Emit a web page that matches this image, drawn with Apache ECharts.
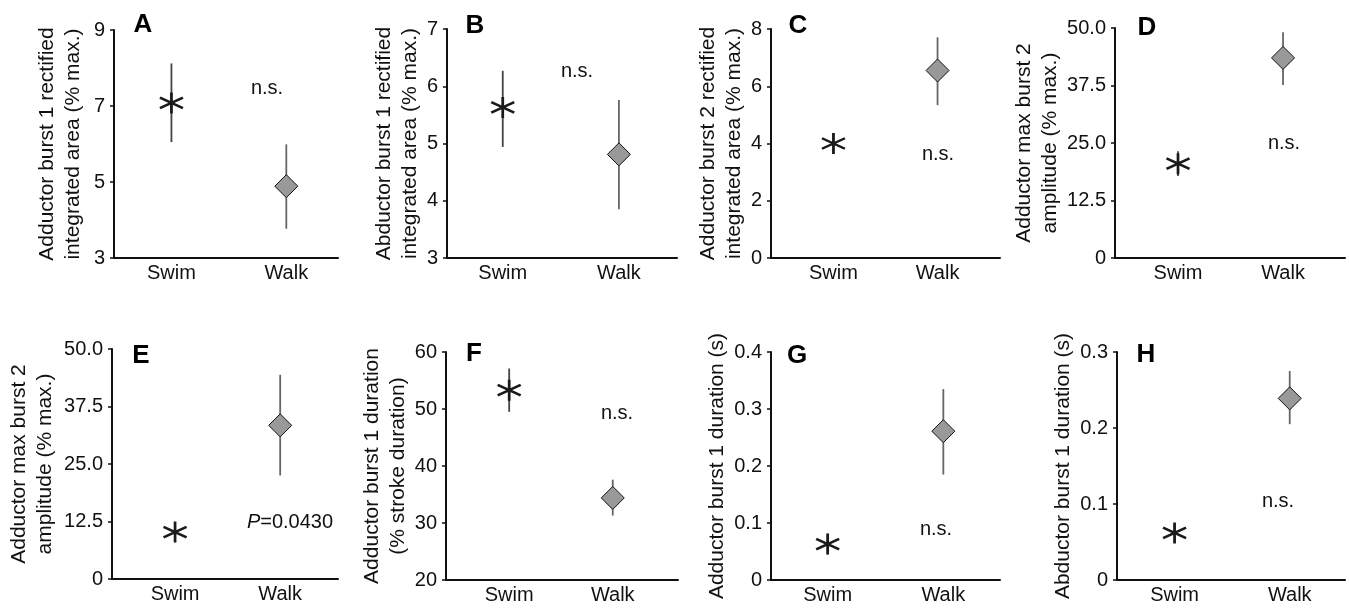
<!DOCTYPE html>
<html>
<head>
<meta charset="utf-8">
<script src="https://cdn.jsdelivr.net/npm/echarts@6/dist/echarts.min.js"></script>
<style>
  html, body { margin: 0; padding: 0; background: #fff; }
  #chart { width: 1349px; height: 612px; }
</style>
</head>
<body>
<div id="chart"></div>
<script>
// panel data (A..H)
const categories = ["Swim", "Walk"];
const panelLetters = ["A", "B", "C", "D", "E", "F", "G", "H"];
const yTitles = [
  "Adductor burst 1 rectified\nintegrated area (% max.)",
  "Abductor burst 1 rectified\nintegrated area (% max.)",
  "Adductor burst 2 rectified\nintegrated area (% max.)",
  "Adductor max burst 2\namplitude (% max.)",
  "Adductor max burst 2\namplitude (% max.)",
  "Adductor burst 1 duration\n(% stroke duration)",
  "Adductor burst 1 duration (s)",
  "Abductor burst 1 duration (s)",
];
const yMin = [3, 3, 0, 0, 0, 20, 0, 0];
const yMax = [9, 7, 8, 50, 50, 60, 0.4, 0.3];
const yStep = [2, 1, 2, 12.5, 12.5, 10, 0.1, 0.1];

const swimMean = [7.08, 5.63, 4.0, 20.5, 10.2, 53.3, 0.063, 0.062];
const swimLow = [6.05, 4.94, 3.65, 17.8, 8.7, 49.5, 0.045, 0.05];
const swimHigh = [8.12, 6.27, 4.35, 23.2, 11.7, 57.1, 0.081, 0.074];

const walkMean = [4.89, 4.81, 6.55, 43.5, 33.4, 34.4, 0.261, 0.239];
const walkLow = [3.77, 3.85, 5.34, 37.6, 22.5, 31.3, 0.185, 0.205];
const walkHigh = [5.99, 5.76, 7.71, 49.1, 44.4, 37.6, 0.335, 0.275];

const notes = ["n.s.", "n.s.", "n.s.", "n.s.", "{i|P}=0.0430", "n.s.", "n.s.", "n.s."];

// layout of the 8 small plots
const grids = [
  { left: 114, top: 30, width: 224, height: 228 },
  { left: 447, top: 29, width: 230, height: 229 },
  { left: 771, top: 29, width: 229, height: 229 },
  { left: 1115, top: 28, width: 230, height: 230 },
  { left: 112, top: 349, width: 226, height: 230 },
  { left: 446, top: 352, width: 232, height: 228 },
  { left: 771, top: 352, width: 229, height: 228 },
  { left: 1117, top: 352, width: 228, height: 228 },
];
const xRange = [
  [-0.5, 1.45], [-0.48, 1.5], [-0.6, 1.6], [-0.6, 1.59],
  [-0.6, 1.55], [-0.61, 1.63], [-0.49, 1.49], [-0.5, 1.48],
];
const nameGaps = [28, 23, 23, 47, 54, 35, 37, 36];
const letterPos = [[143, 25], [475, 26], [798, 26], [1147, 28], [141, 356], [474, 354], [797, 356], [1146, 355]];
const notePos = [[267, 88], [577, 71], [938, 154], [1284, 143], [290, 522], [617, 413], [936, 529], [1278, 501]];

const FONT = "'Liberation Sans', Arial, Helvetica, sans-serif";
const INK = "#111";
const asterisk = "path://M0,0 L0,20 M-8.66,5 L8.66,15 M-8.66,15 L8.66,5";

function tickText(i, v) {
  if (v === 0) return "0";
  if (i === 3 || i === 4 || i >= 6) return v.toFixed(1);
  return String(v);
}

const chart = echarts.init(document.getElementById("chart"));

let xAxis = [], yAxis = [], series = [], graphic = [];
grids.forEach((g, i) => {
  xAxis.push({
    type: "value",
    gridIndex: i,
    min: xRange[i][0],
    max: xRange[i][1],
    axisLine: { show: true, onZero: false, lineStyle: { color: INK, width: 2 } },
    axisTick: { show: false },
    splitLine: { show: false },
    axisLabel: {
      customValues: [0, 1],
      formatter: (v) => categories[Math.round(v)],
      fontSize: 20,
      color: INK,
      margin: 5,
    },
  });
  yAxis.push({
    type: "value",
    gridIndex: i,
    min: yMin[i],
    max: yMax[i],
    interval: yStep[i],
    name: yTitles[i],
    nameLocation: "middle",
    nameGap: nameGaps[i],
    nameTextStyle: { fontSize: 21, lineHeight: 26, color: INK },
    axisLine: { show: true, onZero: false, lineStyle: { color: INK, width: 2 } },
    axisTick: { show: true, length: 4, lineStyle: { color: INK, width: 1.5 } },
    splitLine: { show: false },
    axisLabel: {
      fontSize: 20,
      color: INK,
      margin: 9,
      formatter: (v) => tickText(i, v),
    },
  });

  // error bars
  series.push({
    type: "custom",
    xAxisIndex: i,
    yAxisIndex: i,
    z: 1,
    silent: true,
    encode: { x: 0, y: [1, 2] },
    data: [
      [0, swimLow[i], swimHigh[i]],
      [1, walkLow[i], walkHigh[i]],
    ],
    renderItem: (params, api) => {
      const x = api.value(0);
      const a = api.coord([x, api.value(1)]);
      const b = api.coord([x, api.value(2)]);
      return {
        type: "line",
        shape: { x1: a[0], y1: a[1], x2: b[0], y2: b[1] },
        style: { stroke: x === 0 ? "#444" : "#666", lineWidth: 1.8 },
      };
    },
  });
  series.push({
    type: "scatter",
    xAxisIndex: i,
    yAxisIndex: i,
    z: 3,
    silent: true,
    symbol: asterisk,
    symbolSize: [23, 21],
    itemStyle: { color: "rgba(0,0,0,0)", borderColor: "#1a1a1a", borderWidth: 2.6, opacity: 1 },
    data: [[0, swimMean[i]]],
  });
  series.push({
    type: "scatter",
    xAxisIndex: i,
    yAxisIndex: i,
    z: 3,
    silent: true,
    symbol: "diamond",
    symbolSize: 23,
    itemStyle: { color: "#999", borderColor: INK, borderWidth: 1, opacity: 1 },
    data: [[1, walkMean[i]]],
  });

  graphic.push({
    type: "text",
    x: letterPos[i][0],
    y: letterPos[i][1],
    style: {
      text: panelLetters[i],
      font: "bold 26px " + FONT,
      fill: "#000",
      textAlign: "center",
      textVerticalAlign: "middle",
    },
  });
  graphic.push({
    type: "text",
    x: notePos[i][0],
    y: notePos[i][1],
    style: {
      text: notes[i],
      font: "20px " + FONT,
      fill: INK,
      textAlign: "center",
      textVerticalAlign: "middle",
      rich: { i: { fontStyle: "italic", fontSize: 20, fontFamily: FONT } },
    },
  });
});

chart.setOption({
  animation: false,
  textStyle: { fontFamily: FONT },
  grid: grids.map((g) => Object.assign({ containLabel: false }, g)),
  xAxis: xAxis,
  yAxis: yAxis,
  series: series,
  graphic: graphic,
});
</script>
</body>
</html>
